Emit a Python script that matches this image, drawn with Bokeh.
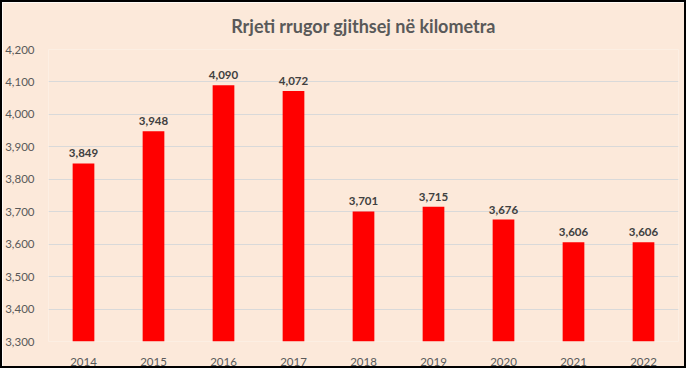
from bokeh.plotting import figure
from bokeh.models import ColumnDataSource, NumeralTickFormatter, FixedTicker, Range1d, LabelSet, Title
from bokeh.core.properties import value
from bokeh.embed import file_html
from bokeh.resources import INLINE

years = ["2014", "2015", "2016", "2017", "2018", "2019", "2020", "2021", "2022"]
values = [3849, 3948, 4090, 4072, 3701, 3715, 3676, 3606, 3606]
y_ticks = [3300, 3400, 3500, 3600, 3700, 3800, 3900, 4000, 4100, 4200]
title_text = "Rrjeti rrugor gjithsej në kilometra"

labels = [f"{v:,}" for v in values]
src = ColumnDataSource(dict(x=years, top=values, lab=labels))

BG = "#FCE9DA"
FONT = "Lato"

p = figure(x_range=years, y_range=Range1d(3300, 4200), width=686, height=368,
           output_backend="svg", toolbar_location=None,
           min_border_left=44, min_border_right=10, min_border_top=47, min_border_bottom=29,
           background_fill_color=BG, border_fill_color=BG, outline_line_color=None)

p.vbar(x="x", top="top", bottom=3300, width=0.31, source=src, color="#FF0000", line_color=None)

p.add_layout(LabelSet(x="x", y="top", text="lab", source=src, y_offset=6,
                      text_align="center", text_baseline="bottom",
                      text_font=value(FONT), text_font_style="bold", text_font_size="11.5px",
                      text_color="#404040"))

# spacer between title and plot area
p.add_layout(Title(text=" ", text_font_size="6px", standoff=0, padding=0), "above")

p.title.text = title_text
p.title.align = "center"
p.title.text_font = FONT
p.title.text_font_size = "18px"
p.title.text_font_style = "bold"
p.title.text_color = "#595959"
p.title.offset = 0

p.yaxis.ticker = FixedTicker(ticks=y_ticks)
p.yaxis.formatter = NumeralTickFormatter(format="0,0")
for ax in (p.xaxis, p.yaxis):
    ax.axis_line_color = None
    ax.major_tick_line_color = None
    ax.minor_tick_line_color = None
    ax.major_label_text_font = FONT
    ax.major_label_text_font_size = "11.5px"
    ax.major_label_text_color = "#595959"
p.xaxis.major_label_standoff = 10
p.yaxis.major_label_standoff = 8

p.xgrid.grid_line_color = None
p.ygrid.grid_line_color = "#D9D9D9"
p.ygrid.grid_line_width = 1

p.styles = {"border": "2px solid black"}

open("out.html", "w").write(file_html(p, INLINE))
